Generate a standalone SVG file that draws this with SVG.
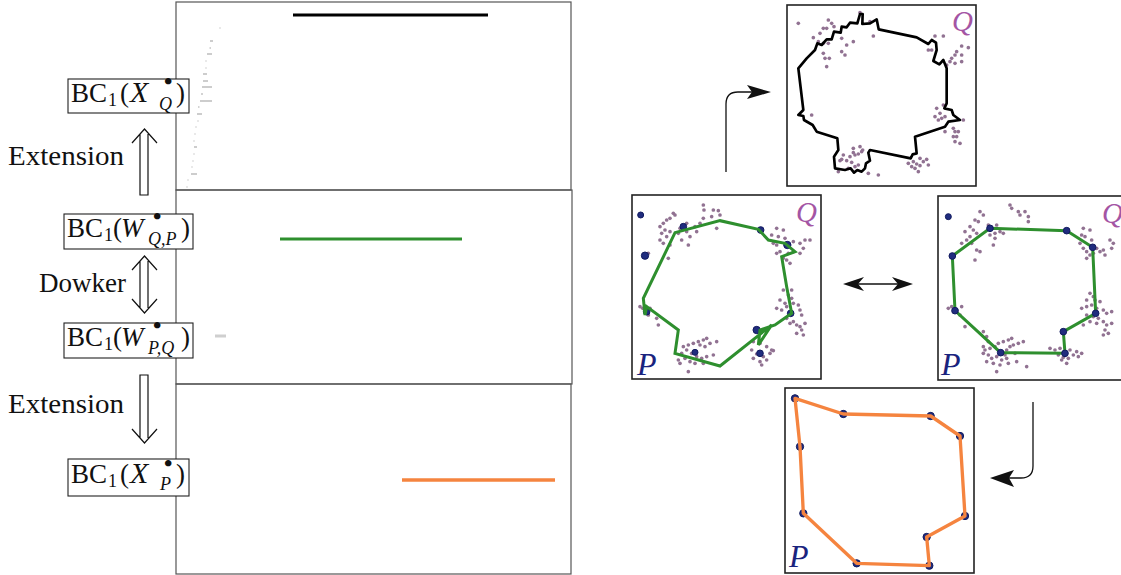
<svg xmlns="http://www.w3.org/2000/svg" width="1121" height="575" viewBox="0 0 1121 575">
<style>
.frame{fill:none;stroke:#555;stroke-width:1.2}
.pframe{fill:#fff;stroke:#222;stroke-width:1.6}
.box{fill:#fff;stroke:#222;stroke-width:1.1}
.tx{font-family:"Liberation Serif","DejaVu Serif",serif;font-size:27px;fill:#111}
.it{font-style:italic}
.sub{font-size:18px}
.bul{font-size:24px;font-weight:bold}
.gd{stroke:#c4c4c4;stroke-width:1.7}
.dbl{fill:none;stroke:#111;stroke-width:1.2}
.ln{fill:none;stroke:#111;stroke-width:1.3}
.ah{fill:#111}
.pd{fill:#917292}
.bd{fill:#202c7e;stroke:#111a5e;stroke-width:3}
.lblQ{font-family:"Liberation Serif","DejaVu Serif",serif;font-style:italic;font-size:29px;fill:#a455a4}
.lblP{font-family:"Liberation Serif","DejaVu Serif",serif;font-style:italic;font-size:32px;fill:#1a237e}
</style>

<g id="barcodes">
  <rect class="frame" x="176" y="2" width="395" height="188"/>
  <rect class="frame" x="176" y="190" width="396" height="194"/>
  <rect class="frame" x="176" y="384" width="395" height="190"/>
  <line x1="293" y1="15" x2="488" y2="15" stroke="#000" stroke-width="3"/>
  <g class="gd">
    <line x1="219.5" y1="28" x2="220.5" y2="28"/>
    <line x1="210" y1="41" x2="213" y2="41"/>
    <line x1="209.5" y1="48" x2="211" y2="48"/>
    <line x1="207" y1="54" x2="212" y2="54"/>
    <line x1="205.5" y1="61" x2="206.5" y2="61"/>
    <line x1="205.5" y1="68" x2="206.5" y2="68"/>
    <line x1="203" y1="74" x2="207" y2="74"/>
    <line x1="203" y1="81" x2="208" y2="81"/>
    <line x1="202" y1="87" x2="212" y2="87"/>
    <line x1="201" y1="94" x2="203" y2="94"/>
    <line x1="200" y1="101" x2="212" y2="101"/>
    <line x1="198" y1="107" x2="199.5" y2="107"/>
    <line x1="197" y1="114" x2="202" y2="114"/>
    <line x1="197.5" y1="121" x2="198.5" y2="121"/>
    <line x1="195.5" y1="127" x2="196.5" y2="127"/>
    <line x1="194.5" y1="134" x2="195.5" y2="134"/>
    <line x1="193.5" y1="141" x2="194.5" y2="141"/>
    <line x1="194" y1="147" x2="197" y2="147"/>
    <line x1="193.5" y1="154" x2="194.5" y2="154"/>
    <line x1="192.5" y1="161" x2="193.5" y2="161"/>
    <line x1="191.5" y1="167" x2="192.5" y2="167"/>
    <line x1="191" y1="174" x2="197" y2="174"/>
    <line x1="187.5" y1="180" x2="188.5" y2="180"/>
    <line x1="186.5" y1="187" x2="187.5" y2="187"/>
  </g>
  <line x1="280" y1="239" x2="462" y2="239" stroke="#2e8f2e" stroke-width="3"/>
  <line x1="215" y1="336" x2="226" y2="336" stroke="#cfcfcf" stroke-width="3"/>
  <line x1="402" y1="480" x2="555" y2="480" stroke="#f5843f" stroke-width="3.5"/>
</g>

<g id="node-bc-xq">
  <rect class="box" x="68" y="79" width="121" height="34"/>
  <text class="tx"><tspan x="71" y="102">BC</tspan><tspan class="sub" x="108" y="106">1</tspan><tspan x="120" y="102">(</tspan><tspan class="it" x="130" y="102" font-size="30">X</tspan><tspan class="bul" x="164" y="89">•</tspan><tspan class="it sub" x="159" y="110">Q</tspan><tspan x="176" y="102">)</tspan></text>
</g>
<g id="node-bc-wqp">
  <rect class="box" x="64" y="214" width="129" height="35"/>
  <text class="tx"><tspan x="67" y="237">BC</tspan><tspan class="sub" x="104" y="241">1</tspan><tspan x="113" y="237">(</tspan><tspan class="it" x="121" y="237">W</tspan><tspan class="bul" x="153" y="224">•</tspan><tspan class="it sub" x="148" y="245">Q,P</tspan><tspan x="181" y="237">)</tspan></text>
</g>
<g id="node-bc-wpq">
  <rect class="box" x="64" y="323" width="129" height="35"/>
  <text class="tx"><tspan x="67" y="346">BC</tspan><tspan class="sub" x="104" y="350">1</tspan><tspan x="113" y="346">(</tspan><tspan class="it" x="121" y="346">W</tspan><tspan class="bul" x="153" y="333">•</tspan><tspan class="it sub" x="148" y="354">P,Q</tspan><tspan x="181" y="346">)</tspan></text>
</g>
<g id="node-bc-xp">
  <rect class="box" x="68" y="459" width="121" height="37"/>
  <text class="tx"><tspan x="71" y="483">BC</tspan><tspan class="sub" x="108" y="487">1</tspan><tspan x="120" y="483">(</tspan><tspan class="it" x="130" y="483" font-size="30">X</tspan><tspan class="bul" x="164" y="471">•</tspan><tspan class="it sub" x="160" y="490">P</tspan><tspan x="176" y="483">)</tspan></text>
</g>

<g id="connectors">
  <text class="tx" x="8" y="165" textLength="116" lengthAdjust="spacingAndGlyphs">Extension</text>
  <path class="dbl" d="M132,143 L144.5,129 L157,143 M140,134 V195 H148 V134"/>
  <text class="tx" x="39" y="292">Dowker</text>
  <path class="dbl" d="M132,270 L144.5,256 L157,270 M132,299 L144.5,313 L157,299 M140,261 V308 M148,261 V308"/>
  <text class="tx" x="8" y="413" textLength="116" lengthAdjust="spacingAndGlyphs">Extension</text>
  <path class="dbl" d="M132,429 L144.5,443 L157,429 M140,438 V375 H148 V438"/>

  <path class="ln" d="M726,172 V104 Q726,92 738,92 H752"/>
  <polygon class="ah" points="771,92 747,85 752,92 747,99"/>
  <path class="ln" d="M858,284 H898"/>
  <polygon class="ah" points="843,284 864,277 858,284 864,291"/>
  <polygon class="ah" points="913,284 892,277 898,284 892,291"/>
  <path class="ln" d="M1033,402 V466 Q1033,478 1021,478 H1009"/>
  <polygon class="ah" points="990,478 1014,470 1009,478 1014,487"/>
</g>

<g id="panel-q">
  <rect class="pframe" x="787" y="5" width="189" height="181"/>
  <g transform="translate(780,0) scale(0.33333)">
    <g class="pd">
      <circle cx="55" cy="70" r="5.5"/><circle cx="130" cy="85" r="5.5"/><circle cx="145" cy="60" r="5.5"/><circle cx="155" cy="70" r="5.5"/><circle cx="162" cy="80" r="5.5"/><circle cx="140" cy="85" r="5.5"/><circle cx="100" cy="113" r="5.5"/><circle cx="115" cy="125" r="5.5"/><circle cx="130" cy="130" r="5.5"/><circle cx="145" cy="130" r="5.5"/><circle cx="185" cy="115" r="5.5"/><circle cx="200" cy="135" r="5.5"/><circle cx="220" cy="125" r="5.5"/><circle cx="185" cy="155" r="5.5"/><circle cx="195" cy="165" r="5.5"/><circle cx="130" cy="160" r="5.5"/><circle cx="135" cy="175" r="5.5"/><circle cx="148" cy="175" r="5.5"/><circle cx="140" cy="200" r="5.5"/><circle cx="120" cy="100" r="5.5"/><circle cx="240" cy="38" r="5.5"/><circle cx="270" cy="65" r="5.5"/><circle cx="280" cy="108" r="5.5"/><circle cx="465" cy="108" r="5.5"/><circle cx="490" cy="108" r="5.5"/><circle cx="445" cy="150" r="5.5"/><circle cx="455" cy="150" r="5.5"/><circle cx="545" cy="138" r="5.5"/><circle cx="565" cy="143" r="5.5"/><circle cx="530" cy="155" r="5.5"/><circle cx="525" cy="165" r="5.5"/><circle cx="545" cy="165" r="5.5"/><circle cx="515" cy="175" r="5.5"/><circle cx="510" cy="185" r="5.5"/><circle cx="525" cy="190" r="5.5"/><circle cx="545" cy="185" r="5.5"/><circle cx="500" cy="195" r="5.5"/><circle cx="470" cy="325" r="5.5"/><circle cx="490" cy="315" r="5.5"/><circle cx="480" cy="340" r="5.5"/><circle cx="465" cy="350" r="5.5"/><circle cx="495" cy="350" r="5.5"/><circle cx="485" cy="355" r="5.5"/><circle cx="475" cy="360" r="5.5"/><circle cx="550" cy="360" r="5.5"/><circle cx="520" cy="385" r="5.5"/><circle cx="525" cy="395" r="5.5"/><circle cx="535" cy="395" r="5.5"/><circle cx="520" cy="410" r="5.5"/><circle cx="495" cy="395" r="5.5"/><circle cx="530" cy="410" r="5.5"/><circle cx="525" cy="425" r="5.5"/><circle cx="540" cy="430" r="5.5"/><circle cx="95" cy="345" r="5.5"/><circle cx="240" cy="440" r="5.5"/><circle cx="220" cy="445" r="5.5"/><circle cx="245" cy="455" r="5.5"/><circle cx="235" cy="462" r="5.5"/><circle cx="225" cy="465" r="5.5"/><circle cx="210" cy="470" r="5.5"/><circle cx="190" cy="465" r="5.5"/><circle cx="185" cy="478" r="5.5"/><circle cx="200" cy="482" r="5.5"/><circle cx="215" cy="487" r="5.5"/><circle cx="225" cy="500" r="5.5"/><circle cx="235" cy="495" r="5.5"/><circle cx="205" cy="505" r="5.5"/><circle cx="180" cy="482" r="5.5"/><circle cx="175" cy="515" r="5.5"/><circle cx="265" cy="520" r="5.5"/><circle cx="295" cy="525" r="5.5"/><circle cx="385" cy="490" r="5.5"/><circle cx="400" cy="485" r="5.5"/><circle cx="410" cy="492" r="5.5"/><circle cx="420" cy="497" r="5.5"/><circle cx="430" cy="485" r="5.5"/><circle cx="440" cy="478" r="5.5"/><circle cx="445" cy="495" r="5.5"/><circle cx="405" cy="505" r="5.5"/><circle cx="415" cy="515" r="5.5"/><circle cx="395" cy="500" r="5.5"/><circle cx="420" cy="475" r="5.5"/><circle cx="248" cy="450" r="5.5"/><circle cx="220" cy="458" r="5.5"/>
    </g>
    <polygon fill="none" stroke="#000" stroke-width="8" stroke-linejoin="round" points="240,42 248,42 247,72 270,70 290,58 296,88 410,112 445,132 455,120 468,128 470,150 460,183 478,193 490,180 500,205 500,310 493,325 515,330 520,345 540,360 505,365 495,380 405,410 410,460 398,463 392,475 270,450 265,458 270,482 258,490 255,505 245,515 232,510 222,518 212,505 195,510 165,505 162,470 175,450 172,415 110,395 98,375 72,360 70,348 55,345 70,330 55,205 80,175 105,150 112,130 125,135 140,118 155,118 162,95 182,98 185,80 200,82 210,68 232,70"/>
  </g>
  <text class="lblQ" x="952" y="31">Q</text>
</g>

<g id="panel-wqp">
  <rect class="pframe" x="632" y="195" width="189" height="184"/>
  <g transform="translate(620,190) scale(0.33333)">
    <g class="pd">
      <circle cx="250" cy="45" r="5.5"/><circle cx="252" cy="60" r="5.5"/><circle cx="280" cy="60" r="5.5"/><circle cx="295" cy="62" r="5.5"/><circle cx="300" cy="75" r="5.5"/><circle cx="275" cy="80" r="5.5"/><circle cx="250" cy="85" r="5.5"/><circle cx="160" cy="70" r="5.5"/><circle cx="150" cy="85" r="5.5"/><circle cx="165" cy="75" r="5.5"/><circle cx="140" cy="90" r="5.5"/><circle cx="130" cy="100" r="5.5"/><circle cx="120" cy="110" r="5.5"/><circle cx="135" cy="120" r="5.5"/><circle cx="150" cy="125" r="5.5"/><circle cx="125" cy="130" r="5.5"/><circle cx="140" cy="140" r="5.5"/><circle cx="120" cy="150" r="5.5"/><circle cx="130" cy="160" r="5.5"/><circle cx="150" cy="165" r="5.5"/><circle cx="175" cy="130" r="5.5"/><circle cx="200" cy="125" r="5.5"/><circle cx="210" cy="140" r="5.5"/><circle cx="185" cy="150" r="5.5"/><circle cx="205" cy="165" r="5.5"/><circle cx="230" cy="125" r="5.5"/><circle cx="240" cy="100" r="5.5"/><circle cx="225" cy="110" r="5.5"/><circle cx="200" cy="100" r="5.5"/><circle cx="180" cy="115" r="5.5"/><circle cx="145" cy="205" r="5.5"/><circle cx="85" cy="190" r="5.5"/><circle cx="290" cy="115" r="5.5"/>
      <circle cx="470" cy="115" r="5.5"/><circle cx="490" cy="120" r="5.5"/><circle cx="455" cy="135" r="5.5"/><circle cx="475" cy="140" r="5.5"/><circle cx="495" cy="145" r="5.5"/><circle cx="460" cy="160" r="5.5"/><circle cx="470" cy="165" r="5.5"/><circle cx="520" cy="155" r="5.5"/><circle cx="540" cy="160" r="5.5"/><circle cx="555" cy="150" r="5.5"/><circle cx="570" cy="150" r="5.5"/><circle cx="550" cy="175" r="5.5"/><circle cx="540" cy="190" r="5.5"/><circle cx="520" cy="185" r="5.5"/><circle cx="505" cy="190" r="5.5"/><circle cx="480" cy="185" r="5.5"/><circle cx="470" cy="190" r="5.5"/><circle cx="500" cy="210" r="5.5"/><circle cx="510" cy="220" r="5.5"/><circle cx="490" cy="205" r="5.5"/>
      <circle cx="490" cy="300" r="5.5"/><circle cx="505" cy="315" r="5.5"/><circle cx="515" cy="325" r="5.5"/><circle cx="480" cy="330" r="5.5"/><circle cx="495" cy="340" r="5.5"/><circle cx="520" cy="340" r="5.5"/><circle cx="535" cy="345" r="5.5"/><circle cx="470" cy="355" r="5.5"/><circle cx="485" cy="360" r="5.5"/><circle cx="500" cy="350" r="5.5"/><circle cx="540" cy="360" r="5.5"/><circle cx="545" cy="375" r="5.5"/><circle cx="500" cy="385" r="5.5"/><circle cx="520" cy="395" r="5.5"/><circle cx="510" cy="400" r="5.5"/><circle cx="530" cy="405" r="5.5"/><circle cx="540" cy="410" r="5.5"/><circle cx="545" cy="420" r="5.5"/><circle cx="530" cy="430" r="5.5"/><circle cx="550" cy="435" r="5.5"/><circle cx="555" cy="400" r="5.5"/><circle cx="515" cy="300" r="5.5"/>
      <circle cx="60" cy="350" r="5.5"/><circle cx="68" cy="355" r="5.5"/><circle cx="90" cy="355" r="5.5"/><circle cx="110" cy="385" r="5.5"/><circle cx="115" cy="405" r="5.5"/><circle cx="85" cy="375" r="5.5"/>
      <circle cx="190" cy="470" r="5.5"/><circle cx="205" cy="465" r="5.5"/><circle cx="220" cy="460" r="5.5"/><circle cx="235" cy="455" r="5.5"/><circle cx="250" cy="450" r="5.5"/><circle cx="260" cy="445" r="5.5"/><circle cx="240" cy="465" r="5.5"/><circle cx="255" cy="470" r="5.5"/><circle cx="270" cy="460" r="5.5"/><circle cx="290" cy="455" r="5.5"/><circle cx="200" cy="480" r="5.5"/><circle cx="215" cy="490" r="5.5"/><circle cx="230" cy="500" r="5.5"/><circle cx="245" cy="505" r="5.5"/><circle cx="260" cy="500" r="5.5"/><circle cx="185" cy="490" r="5.5"/><circle cx="175" cy="510" r="5.5"/><circle cx="195" cy="505" r="5.5"/><circle cx="210" cy="515" r="5.5"/><circle cx="225" cy="520" r="5.5"/><circle cx="250" cy="520" r="5.5"/><circle cx="205" cy="545" r="5.5"/><circle cx="280" cy="495" r="5.5"/><circle cx="180" cy="520" r="5.5"/>
      <circle cx="400" cy="455" r="5.5"/><circle cx="420" cy="460" r="5.5"/><circle cx="440" cy="470" r="5.5"/><circle cx="455" cy="480" r="5.5"/><circle cx="395" cy="480" r="5.5"/><circle cx="410" cy="492" r="5.5"/><circle cx="430" cy="500" r="5.5"/><circle cx="450" cy="490" r="5.5"/><circle cx="400" cy="505" r="5.5"/><circle cx="420" cy="515" r="5.5"/><circle cx="440" cy="510" r="5.5"/><circle cx="425" cy="525" r="5.5"/><circle cx="460" cy="482" r="5.5"/>
    </g>
    <g class="bd">
      <circle cx="62" cy="75" r="9"/><circle cx="75" cy="197" r="11"/><circle cx="190" cy="110" r="10"/><circle cx="422" cy="120" r="10"/><circle cx="502" cy="165" r="11"/><circle cx="80" cy="365" r="10"/><circle cx="225" cy="487" r="9"/><circle cx="410" cy="420" r="11"/><circle cx="420" cy="490" r="10"/><circle cx="512" cy="370" r="10"/>
    </g>
    <polygon fill="none" stroke="#2e8f2e" stroke-width="9" stroke-linejoin="miter" points="165,128 300,92 415,118 445,150 495,160 525,185 485,200 500,290 515,370 465,405 420,420 415,465 455,405 300,528 165,490 175,420 80,350 75,375 70,325"/>
  </g>
  <text class="lblQ" x="796" y="222">Q</text>
  <text class="lblP" x="637" y="375">P</text>
</g>

<g id="panel-wpq">
  <rect class="pframe" x="938" y="196" width="190" height="184"/>
  <g transform="translate(930,190) scale(0.33333)">
    <g class="pd">
      <circle cx="240" cy="45" r="5.5"/><circle cx="245" cy="55" r="5.5"/><circle cx="265" cy="65" r="5.5"/><circle cx="285" cy="65" r="5.5"/><circle cx="295" cy="80" r="5.5"/><circle cx="270" cy="75" r="5.5"/><circle cx="295" cy="95" r="5.5"/><circle cx="150" cy="65" r="5.5"/><circle cx="160" cy="75" r="5.5"/><circle cx="135" cy="90" r="5.5"/><circle cx="145" cy="95" r="5.5"/><circle cx="120" cy="110" r="5.5"/><circle cx="105" cy="125" r="5.5"/><circle cx="130" cy="120" r="5.5"/><circle cx="140" cy="130" r="5.5"/><circle cx="120" cy="140" r="5.5"/><circle cx="110" cy="150" r="5.5"/><circle cx="95" cy="160" r="5.5"/><circle cx="125" cy="160" r="5.5"/><circle cx="140" cy="180" r="5.5"/><circle cx="150" cy="185" r="5.5"/><circle cx="180" cy="135" r="5.5"/><circle cx="195" cy="130" r="5.5"/><circle cx="210" cy="125" r="5.5"/><circle cx="220" cy="130" r="5.5"/><circle cx="190" cy="165" r="5.5"/><circle cx="195" cy="145" r="5.5"/><circle cx="135" cy="210" r="5.5"/><circle cx="175" cy="105" r="5.5"/><circle cx="200" cy="105" r="5.5"/>
      <circle cx="460" cy="115" r="5.5"/><circle cx="480" cy="120" r="5.5"/><circle cx="455" cy="135" r="5.5"/><circle cx="465" cy="140" r="5.5"/><circle cx="485" cy="150" r="5.5"/><circle cx="450" cy="160" r="5.5"/><circle cx="460" cy="175" r="5.5"/><circle cx="470" cy="185" r="5.5"/><circle cx="500" cy="175" r="5.5"/><circle cx="510" cy="185" r="5.5"/><circle cx="525" cy="195" r="5.5"/><circle cx="540" cy="150" r="5.5"/><circle cx="550" cy="160" r="5.5"/><circle cx="545" cy="175" r="5.5"/><circle cx="520" cy="180" r="5.5"/><circle cx="480" cy="195" r="5.5"/><circle cx="470" cy="205" r="5.5"/><circle cx="490" cy="190" r="5.5"/>
      <circle cx="480" cy="310" r="5.5"/><circle cx="490" cy="320" r="5.5"/><circle cx="470" cy="330" r="5.5"/><circle cx="495" cy="330" r="5.5"/><circle cx="510" cy="335" r="5.5"/><circle cx="485" cy="345" r="5.5"/><circle cx="470" cy="350" r="5.5"/><circle cx="500" cy="355" r="5.5"/><circle cx="520" cy="360" r="5.5"/><circle cx="530" cy="370" r="5.5"/><circle cx="545" cy="365" r="5.5"/><circle cx="455" cy="355" r="5.5"/><circle cx="490" cy="380" r="5.5"/><circle cx="505" cy="385" r="5.5"/><circle cx="520" cy="395" r="5.5"/><circle cx="530" cy="405" r="5.5"/><circle cx="545" cy="400" r="5.5"/><circle cx="525" cy="420" r="5.5"/><circle cx="535" cy="430" r="5.5"/><circle cx="520" cy="435" r="5.5"/><circle cx="460" cy="405" r="5.5"/><circle cx="480" cy="395" r="5.5"/><circle cx="500" cy="400" r="5.5"/><circle cx="470" cy="375" r="5.5"/>
      <circle cx="55" cy="355" r="5.5"/><circle cx="65" cy="350" r="5.5"/><circle cx="80" cy="360" r="5.5"/><circle cx="95" cy="350" r="5.5"/><circle cx="105" cy="410" r="5.5"/><circle cx="90" cy="375" r="5.5"/>
      <circle cx="160" cy="425" r="5.5"/><circle cx="170" cy="440" r="5.5"/><circle cx="175" cy="455" r="5.5"/><circle cx="160" cy="470" r="5.5"/><circle cx="165" cy="480" r="5.5"/><circle cx="180" cy="475" r="5.5"/><circle cx="195" cy="470" r="5.5"/><circle cx="205" cy="460" r="5.5"/><circle cx="220" cy="455" r="5.5"/><circle cx="235" cy="450" r="5.5"/><circle cx="245" cy="445" r="5.5"/><circle cx="250" cy="465" r="5.5"/><circle cx="265" cy="460" r="5.5"/><circle cx="280" cy="455" r="5.5"/><circle cx="240" cy="470" r="5.5"/><circle cx="230" cy="480" r="5.5"/><circle cx="175" cy="495" r="5.5"/><circle cx="185" cy="505" r="5.5"/><circle cx="200" cy="500" r="5.5"/><circle cx="215" cy="510" r="5.5"/><circle cx="230" cy="505" r="5.5"/><circle cx="170" cy="515" r="5.5"/><circle cx="190" cy="520" r="5.5"/><circle cx="210" cy="525" r="5.5"/><circle cx="235" cy="520" r="5.5"/><circle cx="260" cy="515" r="5.5"/><circle cx="290" cy="530" r="5.5"/><circle cx="200" cy="545" r="5.5"/><circle cx="255" cy="490" r="5.5"/><circle cx="225" cy="495" r="5.5"/><circle cx="160" cy="490" r="5.5"/>
      <circle cx="360" cy="475" r="5.5"/><circle cx="375" cy="480" r="5.5"/><circle cx="390" cy="475" r="5.5"/><circle cx="420" cy="480" r="5.5"/><circle cx="440" cy="485" r="5.5"/><circle cx="455" cy="490" r="5.5"/><circle cx="385" cy="495" r="5.5"/><circle cx="400" cy="502" r="5.5"/><circle cx="415" cy="505" r="5.5"/><circle cx="430" cy="495" r="5.5"/><circle cx="445" cy="500" r="5.5"/><circle cx="410" cy="520" r="5.5"/><circle cx="395" cy="510" r="5.5"/>
    </g>
    <polygon fill="none" stroke="#2e8f2e" stroke-width="9" points="180,115 410,122 488,172 497,370 400,425 405,490 212,488 75,362 67,198"/>
    <g class="bd">
      <circle cx="55" cy="80" r="9"/><circle cx="180" cy="115" r="10"/><circle cx="410" cy="122" r="10"/><circle cx="488" cy="172" r="10"/><circle cx="497" cy="370" r="10"/><circle cx="400" cy="425" r="10"/><circle cx="405" cy="490" r="10"/><circle cx="212" cy="488" r="10"/><circle cx="75" cy="362" r="10"/><circle cx="67" cy="198" r="10"/>
    </g>
  </g>
  <text class="lblQ" x="1102" y="223">Q</text>
  <text class="lblP" x="941" y="375">P</text>
</g>

<g id="panel-p">
  <rect class="pframe" x="785" y="388" width="189" height="185"/>
  <g transform="translate(770,385) scale(0.33333)">
    <g class="bd">
      <circle cx="75" cy="40" r="11"/><circle cx="220" cy="87" r="11"/><circle cx="482" cy="93" r="11"/><circle cx="570" cy="153" r="11"/><circle cx="585" cy="393" r="11"/><circle cx="470" cy="456" r="11"/><circle cx="478" cy="542" r="11"/><circle cx="260" cy="535" r="11"/><circle cx="100" cy="385" r="11"/><circle cx="90" cy="185" r="11"/>
    </g>
    <polygon fill="none" stroke="#f5843f" stroke-width="10" stroke-linejoin="round" points="75,40 220,87 482,93 570,153 585,393 470,456 478,542 260,535 100,385 90,185"/>
  </g>
  <text class="lblP" x="789" y="567">P</text>
</g>
</svg>
